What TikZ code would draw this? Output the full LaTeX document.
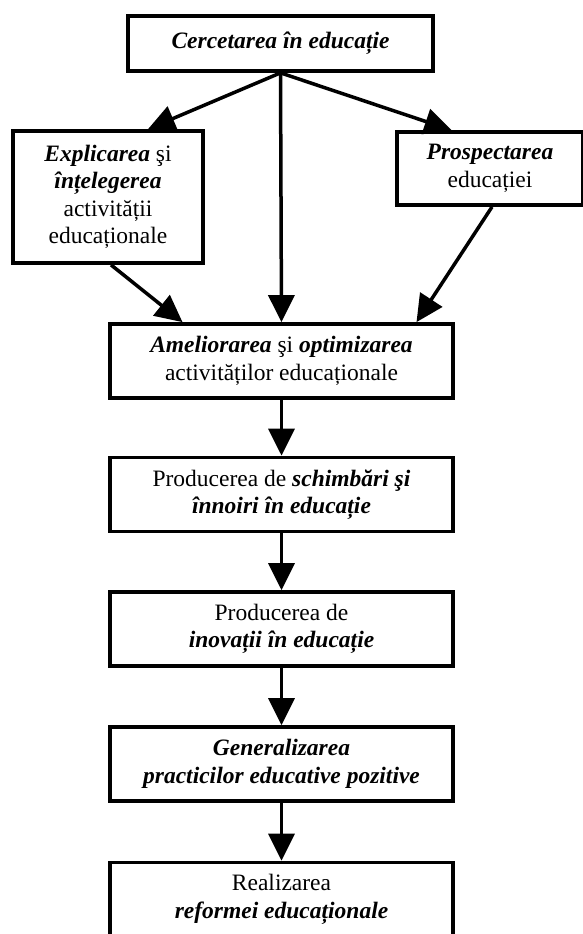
\documentclass[tikz,border=0pt]{standalone}
\usepackage{fontspec}
\setmainfont{Liberation Serif}
\usetikzlibrary{arrows.meta}
\newcommand{\kw}[1]{\textbf{\textit{#1}}}
\begin{document}
\begin{tikzpicture}[
    x=1pt, y=-1pt,
    every node/.style={draw, line width=3.75pt, align=center, inner sep=0pt,
        font=\fontsize{23.5}{27.5}\selectfont},
    stepbox/.style={minimum width=343pt, minimum height=74pt},
    link/.style={line width=3.5pt, -{Triangle[length=27pt,width=26pt]}}
]
\useasboundingbox (0,0) rectangle (582,934);
\node[minimum width=305pt, minimum height=55pt] (cerc) at (280.5,43.5)
    {\kw{Cercetarea în educație}};
\node[minimum width=190pt, minimum height=132pt] (expl) at (108,197)
    {\kw{Explicarea} şi\\ \kw{înțelegerea}\\ activității\\ educaționale};
\node[minimum width=186pt, minimum height=73pt] (prosp) at (490,168.5)
    {\kw{Prospectarea}\\ educației};
\node[stepbox] (amel) at (281.5,361)
    {\kw{Ameliorarea} şi \kw{optimizarea}\\ activităților educaționale};
\node[stepbox] (schimb) at (281.5,494.5)
    {Producerea de \kw{schimbări şi}\\ \kw{înnoiri în educație}};
\node[stepbox] (inov) at (281.5,629)
    {Producerea de\\ \kw{inovații în educație}};
\node[stepbox] (gen) at (281.5,764)
    {\kw{Generalizarea}\\ \kw{practicilor educative pozitive}};
\node[stepbox] (ref) at (281.5,899.5)
    {Realizarea\\ \kw{reformei educaționale}};
% arrows from the top box
\draw[link] (cerc.south) -- ([xshift=40pt]expl.north);
\draw[link] (cerc.south) -- ([xshift=-38.5pt]prosp.north);
\draw[link] (cerc.south) -- (amel.north);
% arrows into the middle box
\draw[link] ([xshift=3pt]expl.south) -- ([xshift=-99pt]amel.north);
\draw[link] ([xshift=2pt]prosp.south) -- ([xshift=135pt]amel.north);
% the chain below
\draw[link] (amel.south) -- (schimb.north);
\draw[link] (schimb.south) -- (inov.north);
\draw[link] (inov.south) -- (gen.north);
\draw[link] (gen.south) -- (ref.north);
\end{tikzpicture}
\end{document}
